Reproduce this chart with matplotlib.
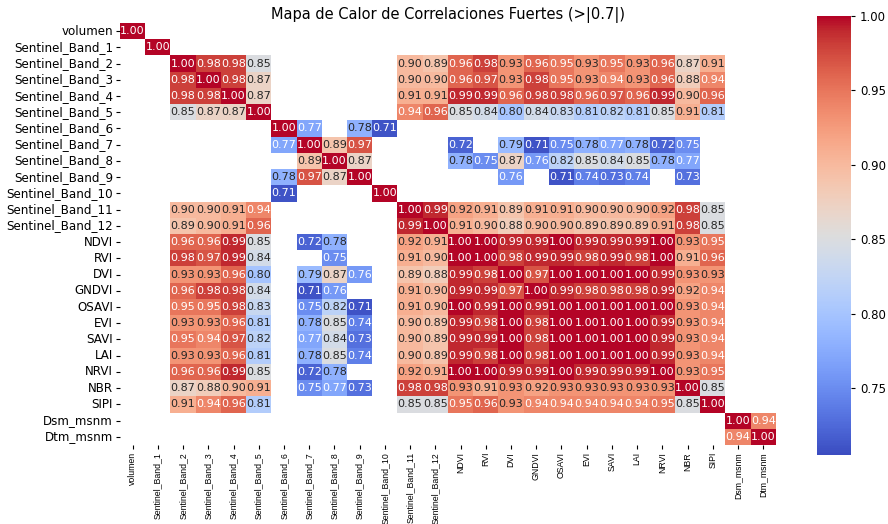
import numpy as np
import matplotlib
matplotlib.use("Agg")
import matplotlib.pyplot as plt
import seaborn as sns

_ = np.nan

# Variables (orden de filas / columnas)
variables = ["volumen", "Sentinel_Band_1", "Sentinel_Band_2", "Sentinel_Band_3",
             "Sentinel_Band_4", "Sentinel_Band_5", "Sentinel_Band_6", "Sentinel_Band_7",
             "Sentinel_Band_8", "Sentinel_Band_9", "Sentinel_Band_10", "Sentinel_Band_11",
             "Sentinel_Band_12", "NDVI", "RVI", "DVI", "GNDVI", "OSAVI", "EVI", "SAVI",
             "LAI", "NRVI", "NBR", "SIPI", "Dsm_msnm", "Dtm_msnm"]

# Correlaciones fuertes (|r| > 0.7), NaN = oculto
r_volumen = [1.00, _, _, _, _, _, _, _, _, _, _, _, _, _, _, _, _, _, _, _, _, _, _, _, _, _]
r_b1 = [_, 1.00, _, _, _, _, _, _, _, _, _, _, _, _, _, _, _, _, _, _, _, _, _, _, _, _]
r_b2 = [_, _, 1.00, 0.98, 0.98, 0.85, _, _, _, _, _, 0.90, 0.89, 0.96, 0.98, 0.93, 0.96, 0.95, 0.93, 0.95, 0.93, 0.96, 0.87, 0.91, _, _]
r_b3 = [_, _, 0.98, 1.00, 0.98, 0.87, _, _, _, _, _, 0.90, 0.90, 0.96, 0.97, 0.93, 0.98, 0.95, 0.93, 0.94, 0.93, 0.96, 0.88, 0.94, _, _]
r_b4 = [_, _, 0.98, 0.98, 1.00, 0.87, _, _, _, _, _, 0.91, 0.91, 0.99, 0.99, 0.96, 0.98, 0.98, 0.96, 0.97, 0.96, 0.99, 0.90, 0.96, _, _]
r_b5 = [_, _, 0.85, 0.87, 0.87, 1.00, _, _, _, _, _, 0.94, 0.96, 0.85, 0.84, 0.80, 0.84, 0.83, 0.81, 0.82, 0.81, 0.85, 0.91, 0.81, _, _]
r_b6 = [_, _, _, _, _, _, 1.00, 0.77, _, 0.78, 0.71, _, _, _, _, _, _, _, _, _, _, _, _, _, _, _]
r_b7 = [_, _, _, _, _, _, 0.77, 1.00, 0.89, 0.97, _, _, _, 0.72, _, 0.79, 0.71, 0.75, 0.78, 0.77, 0.78, 0.72, 0.75, _, _, _]
r_b8 = [_, _, _, _, _, _, _, 0.89, 1.00, 0.87, _, _, _, 0.78, 0.75, 0.87, 0.76, 0.82, 0.85, 0.84, 0.85, 0.78, 0.77, _, _, _]
r_b9 = [_, _, _, _, _, _, 0.78, 0.97, 0.87, 1.00, _, _, _, _, _, 0.76, _, 0.71, 0.74, 0.73, 0.74, _, 0.73, _, _, _]
r_b10 = [_, _, _, _, _, _, 0.71, _, _, _, 1.00, _, _, _, _, _, _, _, _, _, _, _, _, _, _, _]
r_b11 = [_, _, 0.90, 0.90, 0.91, 0.94, _, _, _, _, _, 1.00, 0.99, 0.92, 0.91, 0.89, 0.91, 0.91, 0.90, 0.90, 0.90, 0.92, 0.98, 0.85, _, _]
r_b12 = [_, _, 0.89, 0.90, 0.91, 0.96, _, _, _, _, _, 0.99, 1.00, 0.91, 0.90, 0.88, 0.90, 0.90, 0.89, 0.89, 0.89, 0.91, 0.98, 0.85, _, _]
r_ndvi = [_, _, 0.96, 0.96, 0.99, 0.85, _, 0.72, 0.78, _, _, 0.92, 0.91, 1.00, 1.00, 0.99, 0.99, 1.00, 0.99, 0.99, 0.99, 1.00, 0.93, 0.95, _, _]
r_rvi = [_, _, 0.98, 0.97, 0.99, 0.84, _, _, 0.75, _, _, 0.91, 0.90, 1.00, 1.00, 0.98, 0.99, 0.99, 0.98, 0.99, 0.98, 1.00, 0.91, 0.96, _, _]
r_dvi = [_, _, 0.93, 0.93, 0.96, 0.80, _, 0.79, 0.87, 0.76, _, 0.89, 0.88, 0.99, 0.98, 1.00, 0.97, 1.00, 1.00, 1.00, 1.00, 0.99, 0.93, 0.93, _, _]
r_gndvi = [_, _, 0.96, 0.98, 0.98, 0.84, _, 0.71, 0.76, _, _, 0.91, 0.90, 0.99, 0.99, 0.97, 1.00, 0.99, 0.98, 0.98, 0.98, 0.99, 0.92, 0.94, _, _]
r_osavi = [_, _, 0.95, 0.95, 0.98, 0.83, _, 0.75, 0.82, 0.71, _, 0.91, 0.90, 1.00, 0.99, 1.00, 0.99, 1.00, 1.00, 1.00, 1.00, 1.00, 0.93, 0.94, _, _]
r_evi = [_, _, 0.93, 0.93, 0.96, 0.81, _, 0.78, 0.85, 0.74, _, 0.90, 0.89, 0.99, 0.98, 1.00, 0.98, 1.00, 1.00, 1.00, 1.00, 0.99, 0.93, 0.94, _, _]
r_savi = [_, _, 0.95, 0.94, 0.97, 0.82, _, 0.77, 0.84, 0.73, _, 0.90, 0.89, 0.99, 0.99, 1.00, 0.98, 1.00, 1.00, 1.00, 1.00, 0.99, 0.93, 0.94, _, _]
r_lai = [_, _, 0.93, 0.93, 0.96, 0.81, _, 0.78, 0.85, 0.74, _, 0.90, 0.89, 0.99, 0.98, 1.00, 0.98, 1.00, 1.00, 1.00, 1.00, 0.99, 0.93, 0.94, _, _]
r_nrvi = [_, _, 0.96, 0.96, 0.99, 0.85, _, 0.72, 0.78, _, _, 0.92, 0.91, 1.00, 1.00, 0.99, 0.99, 1.00, 0.99, 0.99, 0.99, 1.00, 0.93, 0.95, _, _]
r_nbr = [_, _, 0.87, 0.88, 0.90, 0.91, _, 0.75, 0.77, 0.73, _, 0.98, 0.98, 0.93, 0.91, 0.93, 0.92, 0.93, 0.93, 0.93, 0.93, 0.93, 1.00, 0.85, _, _]
r_sipi = [_, _, 0.91, 0.94, 0.96, 0.81, _, _, _, _, _, 0.85, 0.85, 0.95, 0.96, 0.93, 0.94, 0.94, 0.94, 0.94, 0.94, 0.95, 0.85, 1.00, _, _]
r_dsm = [_, _, _, _, _, _, _, _, _, _, _, _, _, _, _, _, _, _, _, _, _, _, _, _, 1.00, 0.94]
r_dtm = [_, _, _, _, _, _, _, _, _, _, _, _, _, _, _, _, _, _, _, _, _, _, _, _, 0.94, 1.00]

filas = [r_volumen, r_b1, r_b2, r_b3, r_b4, r_b5, r_b6, r_b7, r_b8, r_b9, r_b10,
         r_b11, r_b12, r_ndvi, r_rvi, r_dvi, r_gndvi, r_osavi, r_evi, r_savi,
         r_lai, r_nrvi, r_nbr, r_sipi, r_dsm, r_dtm]
corr = np.array(filas, dtype=float)

fig = plt.figure(figsize=(8.88, 5.24), dpi=100)
ax = fig.add_axes([0.1351, 0.1508, 0.7387, 0.8053])
cax = fig.add_axes([0.920, 0.1317, 0.0383, 0.8378])

sns.heatmap(corr, mask=np.isnan(corr), annot=True, fmt=".2f", cmap="coolwarm",
            vmin=0.705, vmax=1.0, ax=ax, cbar_ax=cax,
            xticklabels=variables, yticklabels=variables,
            annot_kws={"size": 8})

ax.tick_params(axis="y", length=3, pad=2)
ax.tick_params(axis="x", length=3, pad=2)
ax.set_yticklabels(variables, rotation=0, fontsize=8.6)
# etiquetas del eje x estrechas, como en la figura original
ax.set_xticklabels(variables, rotation=90, fontsize=6.3, family="Liberation Sans")

cax.tick_params(labelsize=8.5, length=3)

fig.text(0.505, 1 - 15 / 524, "Mapa de Calor de Correlaciones Fuertes (>|0.7|)",
         ha="center", va="center", fontsize=10.5)

fig.savefig("out.png", dpi=100)
